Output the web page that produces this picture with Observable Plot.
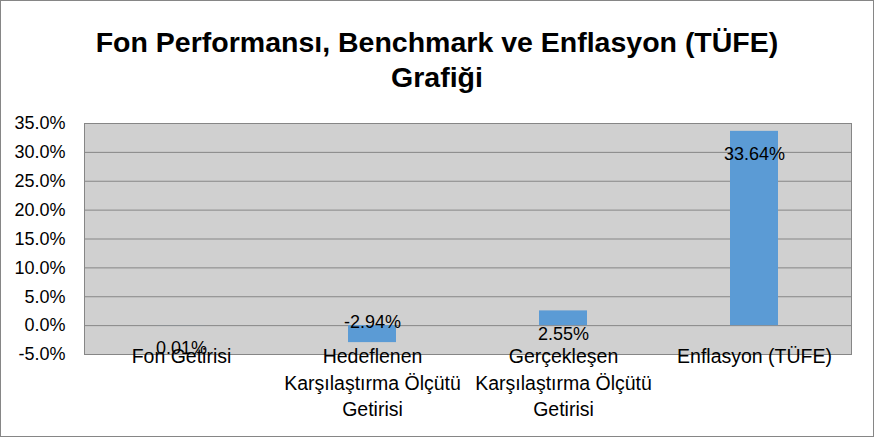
<!DOCTYPE html>
<html>
<head>
<meta charset="utf-8">
<script src="https://cdn.jsdelivr.net/npm/d3@7"></script>
<script src="https://cdn.jsdelivr.net/npm/@observablehq/plot@0.6"></script>
<style>
  body { margin: 0; background: #fff; }
  #wrap { position: relative; width: 872px; height: 435px; border: 1px solid #868686; background: #fff; overflow: hidden; }
  #title { height: 100px; box-sizing: border-box; padding-top: 24px; text-align: center;
           font-family: "Liberation Sans", Arial, sans-serif; font-weight: bold; font-size: 28.5px; line-height: 35px; color: #000; }
</style>
</head>
<body>
<div id="wrap">
  <div id="title">Fon Performansı, Benchmark ve Enflasyon (TÜFE)<br>Grafiği</div>
  <div id="chart"></div>
</div>
<script>
const categories = ["Fon Getirisi", "Hedeflenen Karşılaştırma Ölçütü Getirisi", "Gerçekleşen Karşılaştırma Ölçütü Getirisi", "Enflasyon (TÜFE)"];
const tickLabels = ["Fon Getirisi", "Hedeflenen\nKarşılaştırma Ölçütü\nGetirisi", "Gerçekleşen\nKarşılaştırma Ölçütü\nGetirisi", "Enflasyon (TÜFE)"];
const values = [0.01, -2.94, 2.55, 33.64];
const yTicks = [-5, 0, 5, 10, 15, 20, 25, 30, 35];

const data = categories.map((c, i) => ({cat: c, value: values[i], label: values[i].toFixed(2) + "%"}));
const labelOf = new Map(categories.map((c, i) => [c, tickLabels[i]]));

const chart = Plot.plot({
  width: 872,
  height: 335,
  marginTop: 22,
  marginBottom: 82,
  marginLeft: 83,
  marginRight: 22,
  style: {fontFamily: "'Liberation Sans', Arial, sans-serif", fontSize: "18px", color: "#000", background: "#fff"},
  x: {domain: categories, paddingInner: 0.75, paddingOuter: 0.375, label: null},
  y: {domain: [-5, 35], label: null},
  marks: [
    Plot.frame({fill: "#d0d0d0", stroke: "none"}),
    Plot.ruleY(yTicks, {stroke: "#868686", strokeWidth: 1}),
    Plot.frame({stroke: "#868686", strokeWidth: 1}),
    Plot.barY(data, {x: "cat", y: "value", fill: "#5b9bd5"}),
    Plot.text(data.filter(d => d.value >= 0), {x: "cat", y: "value", text: "label", dy: 23, fill: "#000", fontSize: 18}),
    Plot.text(data.filter(d => d.value < 0), {x: "cat", y: "value", text: "label", dy: -20, fill: "#000", fontSize: 18}),
    Plot.axisY({ticks: yTicks, tickFormat: d => d.toFixed(1) + "%", tickSize: 0, tickPadding: 19, fontSize: 18, label: null}),
    Plot.axisX({tickSize: 0, tickPadding: 0, dy: -10, lineHeight: 1.36, fontSize: 19.5, tickFormat: d => labelOf.get(d), label: null})
  ]
});
document.getElementById("chart").appendChild(chart);
</script>
</body>
</html>
